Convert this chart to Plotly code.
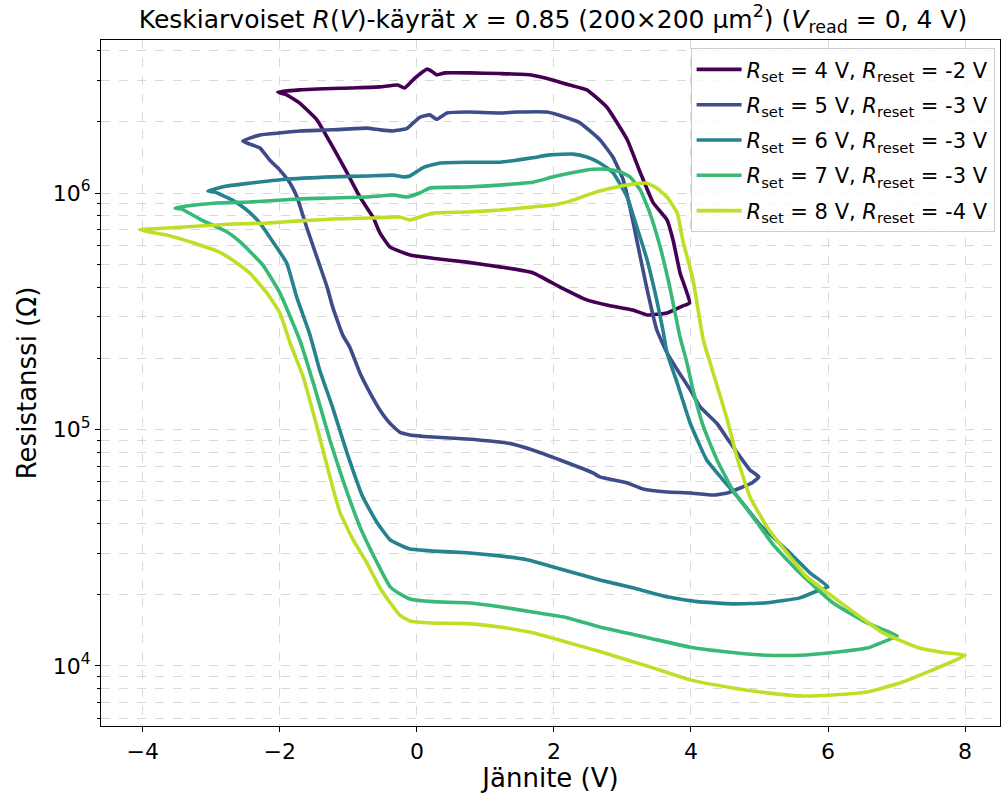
import plotly.graph_objects as go

# Averaged R(V) hysteresis loops, one per set/reset voltage pair
V_set4 = [-2.03, -1.71, -0.98, -0.54, -0.28, -0.18, -0.03, 0.15, 0.23, 0.29, 0.41, 0.77, 1.21, 1.65,
          1.99, 2.23, 2.48, 2.77, 3.07, 3.26, 3.45, 3.65, 3.74, 3.84, 3.98,
          3.88, 3.65, 3.36, 3.15, 2.77, 2.48, 2.09, 1.69, 1.21, 0.73, 0.23, -0.10, -0.39, -0.54,
          -0.64, -0.83, -1.02, -1.23, -1.37, -1.46, -1.71, -1.90, -2.03]
R_set4 = [2.67e6, 2.73e6, 2.78e6, 2.81e6, 2.86e6, 2.78e6, 3.06e6, 3.34e6, 3.25e6, 3.16e6, 3.22e6, 3.22e6,
          3.20e6, 3.16e6, 3.00e6, 2.86e6, 2.73e6, 2.31e6, 1.68e6, 1.22e6, 9.08e5, 7.7e5, 6.3e5, 4.6e5, 3.43e5,
          3.33e5, 3.11e5, 3.05e5, 3.2e5, 3.36e5, 3.53e5, 4.0e5, 4.6e5, 4.87e5, 5.1e5, 5.3e5, 5.47e5, 5.9e5,
          6.78e5, 7.9e5, 9.6e5, 1.22e6, 1.57e6, 1.85e6, 2.04e6, 2.4e6, 2.6e6, 2.67e6]

V_set5 = [-2.54, -2.29, -2.04, -1.71, -1.23, -0.73, -0.54, -0.35, -0.15, 0.04, 0.19, 0.29, 0.44, 0.73,
          1.21, 1.46, 1.90, 2.19, 2.38, 2.67, 2.86, 3.01, 3.11, 3.21, 3.36, 3.50, 3.65, 3.80, 3.99,
          4.13, 4.38, 4.57, 4.72, 4.86, 4.99,
          4.89, 4.72, 4.53, 4.32, 3.99, 3.65, 3.30, 3.07, 2.67, 2.57, 2.09, 1.69, 1.31, 0.73, 0.23,
          -0.10, -0.25, -0.39, -0.54, -0.69, -0.83, -0.98, -1.08, -1.23, -1.31, -1.46, -1.61, -1.75,
          -1.85, -2.00, -2.15, -2.29, -2.44, -2.54]
R_set5 = [1.66e6, 1.76e6, 1.79e6, 1.83e6, 1.85e6, 1.88e6, 1.85e6, 1.83e6, 1.87e6, 2.09e6, 2.14e6, 2.05e6,
          2.18e6, 2.20e6, 2.18e6, 2.20e6, 2.20e6, 2.08e6, 1.98e6, 1.68e6, 1.42e6, 1.14e6, 8.7e5, 6.3e5, 3.9e5,
          2.64e5, 2.11e5, 1.79e5, 1.47e5, 1.25e5, 1.06e5, 8.8e4, 7.65e4, 6.74e4, 6.3e4,
          5.94e4, 5.66e4, 5.39e4, 5.28e4, 5.39e4, 5.44e4, 5.6e4, 5.94e4, 6.3e4, 6.55e4, 7.43e4, 8.19e4,
          8.77e4, 9.12e4, 9.29e4, 9.48e4, 9.75e4, 1.06e5, 1.21e5, 1.44e5, 1.73e5, 2.23e5, 2.5e5, 3.3e5,
          4.0e5, 5.36e5, 7.18e5, 9.62e5, 1.10e6, 1.25e6, 1.38e6, 1.55e6, 1.61e6, 1.66e6]

V_set6 = [-3.05, -2.77, -2.44, -1.96, -1.23, -0.73, -0.35, -0.20, -0.10, 0.09, 0.34, 0.73, 1.21, 1.69,
          1.94, 2.28, 2.48, 2.67, 2.86, 3.07, 3.21, 3.36, 3.50, 3.59, 3.65, 3.80, 3.99, 4.23, 4.47,
          4.72, 5.01, 5.40, 5.74, 6.00,
          5.85, 5.59, 5.11, 4.61, 4.09, 3.65, 3.15, 2.67, 1.99, 1.61, 1.21, 0.73, 0.23, -0.10, -0.25,
          -0.39, -0.58, -0.79, -1.02, -1.23, -1.42, -1.56, -1.75, -1.90, -2.10, -2.29, -2.48, -2.69,
          -2.95, -3.05]
R_set6 = [1.02e6, 1.07e6, 1.10e6, 1.14e6, 1.17e6, 1.18e6, 1.19e6, 1.17e6, 1.18e6, 1.28e6, 1.34e6, 1.35e6,
          1.35e6, 1.41e6, 1.45e6, 1.46e6, 1.42e6, 1.34e6, 1.22e6, 9.6e5, 7.18e5, 5.21e5, 3.53e5, 2.64e5,
          2.11e5, 1.57e5, 1.06e5, 7.43e4, 6.11e4, 5.03e4, 3.95e4, 3.09e4, 2.47e4, 2.16e4,
          2.08e4, 1.94e4, 1.85e4, 1.83e4, 1.87e4, 1.96e4, 2.14e4, 2.31e4, 2.62e4, 2.81e4, 2.92e4, 3.01e4,
          3.06e4, 3.12e4, 3.25e4, 3.41e4, 4.03e4, 5.19e4, 7.96e4, 1.24e5, 1.79e5, 2.51e5, 3.60e5, 5.06e5,
          6.21e5, 7.46e5, 8.47e5, 9.33e5, 1.01e6, 1.02e6]

V_set7 = [-3.53, -3.36, -2.92, -2.44, -1.71, -1.23, -0.73, -0.35, -0.15, 0.04, 0.19, 0.73, 1.21, 1.69,
          1.99, 2.28, 2.57, 2.77, 2.96, 3.11, 3.26, 3.40, 3.55, 3.69, 3.84, 3.93, 4.03, 4.18, 4.38,
          4.61, 4.96, 5.20, 5.59, 6.07, 6.57, 7.01,
          6.88, 6.57, 6.07, 5.59, 5.11, 4.61, 3.99, 3.40, 2.67, 2.19, 1.69, 1.21, 0.73, 0.23, -0.10,
          -0.25, -0.39, -0.58, -0.83, -1.08, -1.27, -1.46, -1.71, -2.00, -2.25, -2.58, -2.77, -3.17,
          -3.43, -3.53]
R_set7 = [8.65e5, 8.81e5, 9.07e5, 9.16e5, 9.44e5, 9.53e5, 9.62e5, 9.81e5, 9.62e5, 1.00e6, 1.05e6, 1.06e6,
          1.08e6, 1.11e6, 1.17e6, 1.22e6, 1.26e6, 1.26e6, 1.23e6, 1.17e6, 1.03e6, 8.23e5, 5.92e5, 4.01e5,
          2.46e5, 1.97e5, 1.47e5, 1.03e5, 7.43e4, 5.55e4, 4.06e4, 3.25e4, 2.47e4, 1.85e4, 1.52e4, 1.34e4,
          1.29e4, 1.19e4, 1.14e4, 1.11e4, 1.11e4, 1.14e4, 1.20e4, 1.31e4, 1.46e4, 1.60e4, 1.69e4, 1.78e4,
          1.85e4, 1.87e4, 1.92e4, 2.02e4, 2.16e4, 2.73e4, 3.87e4, 6.11e4, 9.03e4, 1.40e5, 2.39e5, 3.78e5,
          4.97e5, 6.21e5, 6.84e5, 7.76e5, 8.55e5, 8.65e5]

V_set8 = [-4.04, -3.65, -3.17, -2.69, -2.19, -1.71, -1.23, -0.64, -0.25, -0.10, 0.09, 0.23, 0.73, 1.21,
          1.69, 1.99, 2.28, 2.57, 2.92, 3.15, 3.36, 3.50, 3.65, 3.80, 3.88, 4.03, 4.18, 4.31, 4.53,
          4.67, 4.86, 5.11, 5.40, 5.69, 5.99, 6.47, 6.80, 7.30, 7.68, 8.00,
          7.90, 7.53, 7.05, 6.57, 6.07, 5.59, 5.11, 4.61, 3.99, 3.40, 2.67, 2.19, 1.69, 1.21, 0.73,
          0.23, -0.10, -0.25, -0.39, -0.54, -0.73, -0.93, -1.12, -1.23, -1.46, -1.66, -1.85, -2.00,
          -2.19, -2.44, -2.69, -2.92, -3.17, -3.65, -3.90, -4.04]
R_set8 = [6.98e5, 7.11e5, 7.25e5, 7.39e5, 7.46e5, 7.62e5, 7.76e5, 7.84e5, 7.92e5, 7.69e5, 8.0e5, 8.23e5,
          8.31e5, 8.47e5, 8.73e5, 8.89e5, 9.33e5, 1.00e6, 1.06e6, 1.09e6, 1.10e6, 1.05e6, 9.62e5, 8.23e5,
          6.32e5, 4.29e5, 2.39e5, 1.79e5, 1.10e5, 7.65e4, 5.19e4, 3.87e4, 3.01e4, 2.38e4, 2.04e4, 1.61e4,
          1.38e4, 1.20e4, 1.14e4, 1.11e4,
          1.07e4, 9.62e3, 8.47e3, 7.76e3, 7.54e3, 7.47e3, 7.69e3, 8.07e3, 8.73e3, 9.91e3, 1.15e4, 1.26e4,
          1.38e4, 1.46e4, 1.51e4, 1.52e4, 1.55e4, 1.64e4, 1.85e4, 2.14e4, 2.73e4, 3.41e4, 4.44e4, 5.71e4,
          1.03e5, 1.67e5, 2.32e5, 3.11e5, 3.78e5, 4.59e5, 5.21e5, 5.69e5, 6.03e5, 6.64e5, 6.84e5, 6.98e5]

set_voltages = [4, 5, 6, 7, 8]
reset_voltages = [-2, -3, -3, -3, -4]
colors = ["#440154", "#3e4c8a", "#26828e", "#38b977", "#bddf26"]
curves = [(V_set4, R_set4), (V_set5, R_set5), (V_set6, R_set6), (V_set7, R_set7), (V_set8, R_set8)]

fig = go.Figure()
for i, ((v, r), vs, vr, c) in enumerate(zip(curves, set_voltages, reset_voltages, colors)):
    fig.add_trace(go.Scatter(
        x=v, y=r, mode="lines",
        line=dict(color=c, width=3.6, shape="spline", smoothing=0.4),
        name=f"<i>R</i><sub>set</sub> = {vs} V, <i>R</i><sub>reset</sub> = {vr} V",
        legendgroup=f"g{i}",
    ))

grid_col = "#d9d9d9"
minor_vals = [m * 10 ** e for e in range(3, 7) for m in range(2, 10)]

fig.update_layout(
    width=1003, height=794,
    margin=dict(l=101, r=3, t=40, b=68),
    paper_bgcolor="white", plot_bgcolor="white",
    font=dict(family="DejaVu Sans", size=22, color="black"),
    title=dict(
        text="Keskiarvoiset <i>R</i>(<i>V</i>)-käyrät <i>x</i> = 0.85 (200×200 µm<sup>2</sup>) "
             "(<i>V</i><sub>read</sub> = 0, 4 V)",
        x=553 / 1003, xanchor="center", y=1 - 19 / 794, yanchor="middle",
        font=dict(size=25),
    ),
    legend=dict(
        x=0.994, xanchor="right", y=0.988, yanchor="top",
        bgcolor="rgba(255,255,255,0.8)", bordercolor="#cccccc", borderwidth=1,
        font=dict(size=21), itemwidth=45, tracegroupgap=5,
    ),
    showlegend=True,
)

fig.update_xaxes(
    range=[-4.61, 8.51],
    tickvals=[-4, -2, 0, 2, 4, 6, 8],
    ticktext=["−4", "−2", "0", "2", "4", "6", "8"],
    ticks="outside", ticklen=5, tickwidth=1.2, tickcolor="black",
    showline=True, linecolor="black", linewidth=1.2, mirror=True,
    showgrid=True, gridcolor=grid_col, griddash="dash", gridwidth=1,
    zeroline=False,
    title=dict(text="Jännite (V)", standoff=4),
)
fig.update_yaxes(
    type="log",
    range=[3.746, 6.647],
    tickvals=[1e4, 1e5, 1e6],
    ticktext=["10<sup>4</sup>", "10<sup>5</sup>", "10<sup>6</sup>"],
    ticks="outside", ticklen=5, tickwidth=1.2, tickcolor="black",
    showline=True, linecolor="black", linewidth=1.2, mirror=True,
    showgrid=True, gridcolor=grid_col, griddash="dash", gridwidth=1,
    minor=dict(tickmode="array", tickvals=minor_vals, ticks="outside", ticklen=3,
               tickcolor="black", showgrid=True, gridcolor=grid_col, griddash="dash", gridwidth=1),
    zeroline=False,
    title=dict(text="Resistanssi (Ω)", standoff=8),
)

fig.write_html("out.html")
